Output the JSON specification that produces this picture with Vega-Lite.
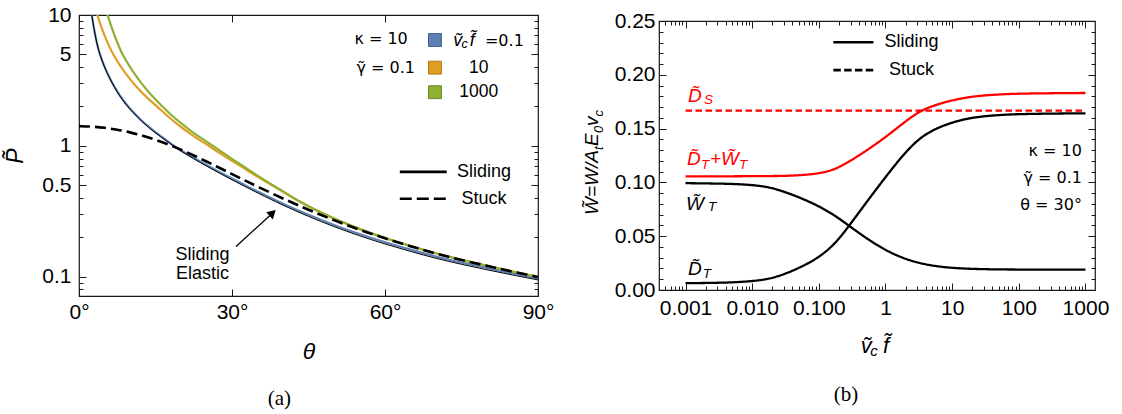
{
"$schema": "https://vega.github.io/schema/vega-lite/v6.json",
"background": "white",
"padding": {"left": 4, "top": 3, "right": 5, "bottom": 0},
"bounds": "flush",
"center": true,
"spacing": 121,
"config": {
 "view": {"stroke": "#1a1a1a", "strokeWidth": 1.2},
 "font": "Liberation Sans",
 "axis": {"domain": false, "grid": false, "labelFont": "Liberation Sans", "labelFontSize": 21, "labelColor": "#000", "tickColor": "#1a1a1a", "tickWidth": 1, "titleFont": "Liberation Sans", "titleFontWeight": "normal", "titleColor": "#000", "labelOverlap": false, "labelFlush": false, "labelBound": false},
 "text": {"font": "Liberation Sans", "color": "#000"},
 "title": {"font": "Liberation Serif", "fontSize": 21, "fontWeight": "normal", "color": "#000"}
},
"resolve": {"scale": {"color": "independent", "stroke": "independent", "strokeDash": "independent"}},
"datasets": {
 "left_slide": [
  {"theta":2.3,"P":11.3,"s":"0.1"},{"theta":2.5,"P":10,"s":"0.1"},{"theta":3,"P":7.6,"s":"0.1"},{"theta":3.5,"P":6.1,"s":"0.1"},{"theta":4,"P":5.1,"s":"0.1"},{"theta":5,"P":4.0,"s":"0.1"},{"theta":6,"P":3.3,"s":"0.1"},{"theta":7,"P":2.8,"s":"0.1"},{"theta":8,"P":2.42,"s":"0.1"},{"theta":9,"P":2.14,"s":"0.1"},{"theta":10,"P":1.92,"s":"0.1"},{"theta":12,"P":1.59,"s":"0.1"},{"theta":14,"P":1.36,"s":"0.1"},{"theta":16,"P":1.19,"s":"0.1"},{"theta":18,"P":1.04,"s":"0.1"},{"theta":19,"P":0.975,"s":"0.1"},{"theta":20,"P":0.922,"s":"0.1"},{"theta":22.5,"P":0.808,"s":"0.1"},{"theta":25,"P":0.713,"s":"0.1"},{"theta":27.5,"P":0.632,"s":"0.1"},{"theta":30,"P":0.562,"s":"0.1"},{"theta":32.5,"P":0.501,"s":"0.1"},{"theta":35,"P":0.448,"s":"0.1"},{"theta":40,"P":0.36,"s":"0.1"},{"theta":45,"P":0.296,"s":"0.1"},{"theta":50,"P":0.248,"s":"0.1"},{"theta":55,"P":0.211,"s":"0.1"},{"theta":60,"P":0.183,"s":"0.1"},{"theta":65,"P":0.161,"s":"0.1"},{"theta":70,"P":0.142,"s":"0.1"},{"theta":75,"P":0.128,"s":"0.1"},{"theta":80,"P":0.1165,"s":"0.1"},{"theta":85,"P":0.106,"s":"0.1"},{"theta":90,"P":0.097,"s":"0.1"},
  {"theta":3.3,"P":11.0,"s":"10"},{"theta":3.6,"P":10,"s":"10"},{"theta":4,"P":8.89,"s":"10"},{"theta":5,"P":6.93,"s":"10"},{"theta":6,"P":5.66,"s":"10"},{"theta":6.7,"P":5.0,"s":"10"},{"theta":8,"P":4.11,"s":"10"},{"theta":10,"P":3.21,"s":"10"},{"theta":12,"P":2.62,"s":"10"},{"theta":14,"P":2.21,"s":"10"},{"theta":15.3,"P":2.0,"s":"10"},{"theta":18,"P":1.604,"s":"10"},{"theta":20,"P":1.39,"s":"10"},{"theta":22,"P":1.222,"s":"10"},{"theta":24,"P":1.086,"s":"10"},{"theta":25.5,"P":1.0,"s":"10"},{"theta":28,"P":0.858,"s":"10"},{"theta":30,"P":0.767,"s":"10"},{"theta":32,"P":0.69,"s":"10"},{"theta":35,"P":0.58,"s":"10"},{"theta":38,"P":0.495,"s":"10"},{"theta":40,"P":0.447,"s":"10"},{"theta":42,"P":0.399,"s":"10"},{"theta":45,"P":0.344,"s":"10"},{"theta":48,"P":0.302,"s":"10"},{"theta":50,"P":0.278,"s":"10"},{"theta":55,"P":0.23,"s":"10"},{"theta":60,"P":0.197,"s":"10"},{"theta":65,"P":0.1715,"s":"10"},{"theta":70,"P":0.1505,"s":"10"},{"theta":75,"P":0.1343,"s":"10"},{"theta":80,"P":0.1213,"s":"10"},{"theta":85,"P":0.1093,"s":"10"},{"theta":90,"P":0.0997,"s":"10"},
  {"theta":5.3,"P":11.0,"s":"1000"},{"theta":5.6,"P":10,"s":"1000"},{"theta":6,"P":8.92,"s":"1000"},{"theta":7,"P":6.9,"s":"1000"},{"theta":8,"P":5.53,"s":"1000"},{"theta":8.5,"P":5.0,"s":"1000"},{"theta":10,"P":3.98,"s":"1000"},{"theta":12,"P":3.08,"s":"1000"},{"theta":14,"P":2.48,"s":"1000"},{"theta":16.3,"P":2.0,"s":"1000"},{"theta":18,"P":1.73,"s":"1000"},{"theta":20,"P":1.487,"s":"1000"},{"theta":22,"P":1.295,"s":"1000"},{"theta":24,"P":1.142,"s":"1000"},{"theta":26.3,"P":1.0,"s":"1000"},{"theta":28,"P":0.897,"s":"1000"},{"theta":30,"P":0.795,"s":"1000"},{"theta":32,"P":0.71,"s":"1000"},{"theta":35,"P":0.59,"s":"1000"},{"theta":38,"P":0.5,"s":"1000"},{"theta":40,"P":0.45,"s":"1000"},{"theta":42,"P":0.4,"s":"1000"},{"theta":45,"P":0.345,"s":"1000"},{"theta":48,"P":0.303,"s":"1000"},{"theta":50,"P":0.278,"s":"1000"},{"theta":55,"P":0.231,"s":"1000"},{"theta":60,"P":0.197,"s":"1000"},{"theta":65,"P":0.1715,"s":"1000"},{"theta":70,"P":0.1505,"s":"1000"},{"theta":75,"P":0.1343,"s":"1000"},{"theta":80,"P":0.1213,"s":"1000"},{"theta":85,"P":0.1093,"s":"1000"},{"theta":90,"P":0.0997,"s":"1000"}
 ],
 "left_el": [
  {"theta":2.3,"P":11.2},{"theta":2.5,"P":9.95},{"theta":3,"P":7.57},{"theta":3.5,"P":6.07},{"theta":4,"P":5.07},{"theta":5,"P":3.98},{"theta":6,"P":3.28},{"theta":7,"P":2.78},{"theta":8,"P":2.4},{"theta":9,"P":2.12},{"theta":10,"P":1.905},{"theta":12,"P":1.575},{"theta":14,"P":1.345},{"theta":16,"P":1.175},{"theta":18,"P":1.03},{"theta":20,"P":0.91},{"theta":22.5,"P":0.795},{"theta":25,"P":0.7},{"theta":27.5,"P":0.619},{"theta":30,"P":0.55},{"theta":32.5,"P":0.49},{"theta":35,"P":0.437},{"theta":40,"P":0.351},{"theta":45,"P":0.288},{"theta":50,"P":0.241},{"theta":55,"P":0.205},{"theta":60,"P":0.1775},{"theta":65,"P":0.156},{"theta":70,"P":0.1378},{"theta":75,"P":0.1242},{"theta":80,"P":0.113},{"theta":85,"P":0.1029},{"theta":90,"P":0.0945}
 ],
 "left_stuck": [
  {"theta":0,"P":1.414},{"theta":2.5,"P":1.405},{"theta":5,"P":1.377},{"theta":7.5,"P":1.331},{"theta":10,"P":1.27},{"theta":12.5,"P":1.197},{"theta":15,"P":1.114},{"theta":17.5,"P":1.025},{"theta":20,"P":0.934},{"theta":22.5,"P":0.845},{"theta":25,"P":0.759},{"theta":27.5,"P":0.68},{"theta":30,"P":0.608},{"theta":32.5,"P":0.544},{"theta":35,"P":0.488},{"theta":40,"P":0.395},{"theta":45,"P":0.324},{"theta":50,"P":0.27},{"theta":55,"P":0.228},{"theta":60,"P":0.196},{"theta":65,"P":0.171},{"theta":70,"P":0.15},{"theta":75,"P":0.134},{"theta":80,"P":0.121},{"theta":85,"P":0.109},{"theta":90,"P":0.0995}
 ],
 "left_sq": [{"theta":69.8,"P":6.44,"s":"0.1"},{"theta":69.8,"P":3.96,"s":"10"},{"theta":69.8,"P":2.57,"s":"1000"}],
 "left_txt_l": [{"theta":54.0,"P":6.01,"t":"\u03ba = 10"},{"theta":54.4,"P":3.63,"t":"\u03b3\u0303 = 0.1"},{"theta":79.6,"P":5.8,"t":"=0.1"}],
 "left_txt_c": [{"theta":78.4,"P":3.59,"t":"10"},{"theta":78.4,"P":2.35,"t":"1000"}],
 "left_txt_i": [{"theta":73.4,"P":5.8,"t":"\u1e7d"},{"theta":76.6,"P":5.8,"t":"f\u0303"}],
 "left_txt_sub": [{"theta":75.0,"P":5.57,"t":"c"}],
 "left_txt_m": [{"theta":79.4,"P":0.633,"t":"Sliding"},{"theta":79.4,"P":0.394,"t":"Stuck"},{"theta":24.2,"P":0.147,"t":"Sliding"},{"theta":24.2,"P":0.104,"t":"Elastic"}],
 "left_leg_solid": [{"theta":62.9,"theta2":72.1,"P":0.633}],
 "left_leg_dash": [{"theta":62.9,"theta2":72.1,"P":0.394}],
 "left_arrow": [{"theta":30.8,"P":0.17,"theta2":37.96,"P2":0.307}],
 "left_head": [{"theta":37.96,"P":0.307}],
 "right_lines": [
  {"v":0.001,"w":0.0993,"s":"WT"},{"v":0.001778,"w":0.0991,"s":"WT"},{"v":0.003162,"w":0.0989,"s":"WT"},{"v":0.005623,"w":0.0985,"s":"WT"},{"v":0.01,"w":0.0976,"s":"WT"},{"v":0.01778,"w":0.0958,"s":"WT"},{"v":0.03162,"w":0.091,"s":"WT"},{"v":0.05623,"w":0.085,"s":"WT"},{"v":0.1,"w":0.078,"s":"WT"},{"v":0.1778,"w":0.069,"s":"WT"},{"v":0.3162,"w":0.0575,"s":"WT"},{"v":0.5623,"w":0.0465,"s":"WT"},{"v":1,"w":0.037,"s":"WT"},{"v":1.778,"w":0.0298,"s":"WT"},{"v":3.162,"w":0.025,"s":"WT"},{"v":5.623,"w":0.0221,"s":"WT"},{"v":10,"w":0.0205,"s":"WT"},{"v":17.78,"w":0.0197,"s":"WT"},{"v":31.62,"w":0.0193,"s":"WT"},{"v":56.23,"w":0.0191,"s":"WT"},{"v":100,"w":0.019,"s":"WT"},{"v":316.2,"w":0.0189,"s":"WT"},{"v":1000,"w":0.0189,"s":"WT"},
  {"v":0.001,"w":0.0063,"s":"DT"},{"v":0.001778,"w":0.0065,"s":"DT"},{"v":0.003162,"w":0.0067,"s":"DT"},{"v":0.005623,"w":0.0072,"s":"DT"},{"v":0.01,"w":0.0082,"s":"DT"},{"v":0.01778,"w":0.0101,"s":"DT"},{"v":0.03162,"w":0.015,"s":"DT"},{"v":0.05623,"w":0.0218,"s":"DT"},{"v":0.1,"w":0.0302,"s":"DT"},{"v":0.1778,"w":0.043,"s":"DT"},{"v":0.3162,"w":0.0635,"s":"DT"},{"v":0.5623,"w":0.0845,"s":"DT"},{"v":1,"w":0.105,"s":"DT"},{"v":1.778,"w":0.1245,"s":"DT"},{"v":3.162,"w":0.141,"s":"DT"},{"v":5.623,"w":0.15,"s":"DT"},{"v":10,"w":0.1558,"s":"DT"},{"v":17.78,"w":0.1597,"s":"DT"},{"v":31.62,"w":0.1617,"s":"DT"},{"v":56.23,"w":0.1628,"s":"DT"},{"v":100,"w":0.1635,"s":"DT"},{"v":316.2,"w":0.164,"s":"DT"},{"v":1000,"w":0.1642,"s":"DT"},
  {"v":0.001,"w":0.1056,"s":"sum"},{"v":0.001778,"w":0.1056,"s":"sum"},{"v":0.003162,"w":0.1056,"s":"sum"},{"v":0.005623,"w":0.1057,"s":"sum"},{"v":0.01,"w":0.1058,"s":"sum"},{"v":0.01778,"w":0.1059,"s":"sum"},{"v":0.03162,"w":0.106,"s":"sum"},{"v":0.05623,"w":0.1068,"s":"sum"},{"v":0.1,"w":0.1082,"s":"sum"},{"v":0.1778,"w":0.112,"s":"sum"},{"v":0.3162,"w":0.121,"s":"sum"},{"v":0.5623,"w":0.131,"s":"sum"},{"v":1,"w":0.142,"s":"sum"},{"v":1.778,"w":0.1543,"s":"sum"},{"v":3.162,"w":0.166,"s":"sum"},{"v":5.623,"w":0.1721,"s":"sum"},{"v":10,"w":0.1763,"s":"sum"},{"v":17.78,"w":0.1794,"s":"sum"},{"v":31.62,"w":0.181,"s":"sum"},{"v":56.23,"w":0.1819,"s":"sum"},{"v":100,"w":0.1825,"s":"sum"},{"v":316.2,"w":0.1829,"s":"sum"},{"v":1000,"w":0.1831,"s":"sum"},
  {"v":0.001,"w":0.1667,"s":"DS"},{"v":1000,"w":0.1667,"s":"DS"}
 ],
 "right_leg_solid": [{"v":0.165,"v2":0.66,"w":0.2303}],
 "right_leg_dash": [{"v":0.165,"v2":0.66,"w":0.2043}],
 "right_txt_m": [{"v":2.46,"w":0.2303,"t":"Sliding"},{"v":2.46,"w":0.2043,"t":"Stuck"}],
 "right_txt_r": [{"v":886,"w":0.129,"t":"\u03ba = 10"},{"v":886,"w":0.104,"t":"\u03b3\u0303 = 0.1"},{"v":886,"w":0.079,"t":"\u03b8 = 30\u00b0"}],
 "right_lab": [{"v":0.00109,"w":0.1747,"t":"D\u0303","s":"DS"},{"v":0.001052,"w":0.1159,"t":"D\u0303","s":"sum"},{"v":0.00233,"w":0.1159,"t":"+W\u0303","s":"sum"},{"v":0.001017,"w":0.0746,"t":"W\u0303","s":"WT"},{"v":0.00109,"w":0.0142,"t":"D\u0303","s":"DT"}],
 "right_sub": [{"v":0.00189,"w":0.1729,"t":"S","s":"DS"},{"v":0.0017,"w":0.1127,"t":"T","s":"sum"},{"v":0.00634,"w":0.1127,"t":"T","s":"sum"},{"v":0.00217,"w":0.0731,"t":"T","s":"WT"},{"v":0.00182,"w":0.0112,"t":"T","s":"DT"}],
 "right_xt": [{"v":0.4246,"w":-0.0586,"t":"\u1e7d"},{"v":0.916,"w":-0.0586,"t":"f\u0303"}],
 "right_xt_sub": [{"v":0.593,"w":-0.0616,"t":"c"}],
 "right_yt": [{"v":0.0000486,"w":0.0697,"t":"W\u0303=W/A"},{"v":0.0000486,"w":0.1338,"t":"E"},{"v":0.0000486,"w":0.1524,"t":"v"}],
 "right_yt_sub": [{"v":0.0000578,"w":0.1301,"t":"t"},{"v":0.0000578,"w":0.1459,"t":"0"},{"v":0.0000578,"w":0.1612,"t":"c"}]
},
"hconcat": [
 {
  "width": 459, "height": 281,
  "title": {"text": "(a)", "orient": "bottom", "anchor": "middle", "frame": "bounds", "offset": 25},
  "resolve": {"axis": {"x": "independent", "y": "independent"}},
  "layer": [
   {"data": {"name": "left_slide"},
    "mark": {"type": "line", "clip": true, "strokeWidth": 2.2, "interpolate": "basis"},
    "encoding": {
     "x": {"field": "theta", "type": "quantitative", "scale": {"domain": [0, 90], "nice": false, "zero": false},
       "axis": {"orient": "bottom", "values": [0, 30, 60, 90], "labelExpr": "datum.value + '\u00b0'", "tickSize": -7, "labelPadding": 12, "title": "\u03b8", "titleFontStyle": "italic", "titleFontSize": 23, "titlePadding": 18}},
     "y": {"field": "P", "type": "quantitative", "scale": {"type": "log", "domain": [0.0712, 10], "nice": false},
       "axis": {"orient": "left", "values": [0.08,0.09,0.1,0.2,0.3,0.4,0.5,0.6,0.7,0.8,0.9,1,2,3,4,5,6,7,8,9,10],
         "labelExpr": "datum.value == 0.1 ? '0.1' : datum.value == 0.5 ? '0.5' : datum.value == 1 ? '1' : datum.value == 5 ? '5' : datum.value == 10 ? '10' : ''",
         "tickSize": {"condition": {"test": "datum.value == 0.1 || datum.value == 0.5 || datum.value == 1 || datum.value == 5 || datum.value == 10", "value": -7}, "value": -4},
         "labelPadding": 15, "title": "P\u0303", "titleFontStyle": "italic", "titleFontSize": 23, "titlePadding": 14}},
     "color": {"field": "s", "type": "nominal", "scale": {"domain": ["0.1", "10", "1000"], "range": ["#5E81B5", "#E19C24", "#8FB032"]}, "legend": null}
    }},
   {"data": {"name": "left_el"},
    "mark": {"type": "line", "clip": true, "strokeWidth": 1, "color": "#000", "interpolate": "basis"},
    "encoding": {
     "x": {"field": "theta", "type": "quantitative", "scale": {"domain": [0, 90], "nice": false, "zero": false}, "axis": null},
     "y": {"field": "P", "type": "quantitative", "scale": {"type": "log", "domain": [0.0712, 10], "nice": false}, "axis": null}
    }},
   {"data": {"name": "left_stuck"},
    "mark": {"type": "line", "clip": true, "strokeWidth": 2.6, "color": "#000", "strokeDash": [11, 5], "interpolate": "basis"},
    "encoding": {
     "x": {"field": "theta", "type": "quantitative", "scale": {"domain": [0, 90], "nice": false, "zero": false},
       "axis": {"orient": "top", "values": [0, 30, 60, 90], "labels": false, "tickSize": -7, "title": null}},
     "y": {"field": "P", "type": "quantitative", "scale": {"type": "log", "domain": [0.0712, 10], "nice": false},
       "axis": {"orient": "right", "values": [0.08,0.09,0.1,0.2,0.3,0.4,0.5,0.6,0.7,0.8,0.9,1,2,3,4,5,6,7,8,9,10], "labels": false,
         "tickSize": {"condition": {"test": "datum.value == 0.1 || datum.value == 0.5 || datum.value == 1 || datum.value == 5 || datum.value == 10", "value": -7}, "value": -4}, "title": null}}
    }},
   {"data": {"name": "left_sq"},
    "mark": {"type": "point", "shape": "square", "filled": true, "size": 165, "strokeWidth": 1, "opacity": 1},
    "encoding": {
     "x": {"field": "theta", "type": "quantitative", "axis": null},
     "y": {"field": "P", "type": "quantitative", "axis": null},
     "color": {"field": "s", "type": "nominal", "legend": null},
     "stroke": {"field": "s", "type": "nominal", "scale": {"domain": ["0.1", "10", "1000"], "range": ["#3d5d8f", "#b07a12", "#6b8a1f"]}, "legend": null}
    }},
   {"data": {"name": "left_txt_l"},
    "mark": {"type": "text", "align": "left", "baseline": "alphabetic", "fontSize": 16, "font": "DejaVu Sans"},
    "encoding": {"x": {"field": "theta", "type": "quantitative", "axis": null}, "y": {"field": "P", "type": "quantitative", "axis": null}, "text": {"field": "t"}}},
   {"data": {"name": "left_txt_c"},
    "mark": {"type": "text", "align": "center", "baseline": "alphabetic", "fontSize": 17.5},
    "encoding": {"x": {"field": "theta", "type": "quantitative", "axis": null}, "y": {"field": "P", "type": "quantitative", "axis": null}, "text": {"field": "t"}}},
   {"data": {"name": "left_txt_i"},
    "mark": {"type": "text", "align": "left", "baseline": "alphabetic", "fontSize": 18, "fontStyle": "italic"},
    "encoding": {"x": {"field": "theta", "type": "quantitative", "axis": null}, "y": {"field": "P", "type": "quantitative", "axis": null}, "text": {"field": "t"}}},
   {"data": {"name": "left_txt_sub"},
    "mark": {"type": "text", "align": "left", "baseline": "alphabetic", "fontSize": 12.5, "fontStyle": "italic"},
    "encoding": {"x": {"field": "theta", "type": "quantitative", "axis": null}, "y": {"field": "P", "type": "quantitative", "axis": null}, "text": {"field": "t"}}},
   {"data": {"name": "left_txt_m"},
    "mark": {"type": "text", "align": "center", "baseline": "middle", "fontSize": 18},
    "encoding": {"x": {"field": "theta", "type": "quantitative", "axis": null}, "y": {"field": "P", "type": "quantitative", "axis": null}, "text": {"field": "t"}}},
   {"data": {"name": "left_leg_solid"},
    "mark": {"type": "rule", "strokeWidth": 2.6, "color": "#000"},
    "encoding": {"x": {"field": "theta", "type": "quantitative", "axis": null}, "x2": {"field": "theta2"}, "y": {"field": "P", "type": "quantitative", "axis": null}}},
   {"data": {"name": "left_leg_dash"},
    "mark": {"type": "rule", "strokeWidth": 2.6, "color": "#000", "strokeDash": [12, 5]},
    "encoding": {"x": {"field": "theta", "type": "quantitative", "axis": null}, "x2": {"field": "theta2"}, "y": {"field": "P", "type": "quantitative", "axis": null}}},
   {"data": {"name": "left_arrow"},
    "mark": {"type": "rule", "strokeWidth": 1.3, "color": "#000"},
    "encoding": {"x": {"field": "theta", "type": "quantitative", "axis": null}, "x2": {"field": "theta2"}, "y": {"field": "P", "type": "quantitative", "axis": null}, "y2": {"field": "P2"}}},
   {"data": {"name": "left_head"},
    "mark": {"type": "point", "shape": "triangle-up", "filled": true, "color": "#000", "size": 95, "angle": 47, "opacity": 1},
    "encoding": {"x": {"field": "theta", "type": "quantitative", "axis": null}, "y": {"field": "P", "type": "quantitative", "axis": null}}}
  ]
 },
 {
  "width": 436, "height": 269,
  "title": {"text": "(b)", "orient": "bottom", "anchor": "middle", "frame": "bounds", "offset": 25},
  "resolve": {"axis": {"x": "independent", "y": "independent"}},
  "layer": [
   {"data": {"name": "right_lines"},
    "mark": {"type": "line", "clip": true, "strokeWidth": 2.3, "interpolate": "basis"},
    "encoding": {
     "x": {"field": "v", "type": "quantitative", "scale": {"type": "log", "domain": [0.0004, 1390], "nice": false},
       "axis": {"orient": "bottom", "values": [0.0004,0.0005,0.0006,0.0007,0.0008,0.0009,0.001,0.002,0.003,0.004,0.005,0.006,0.007,0.008,0.009,0.01,0.02,0.03,0.04,0.05,0.06,0.07,0.08,0.09,0.1,0.2,0.3,0.4,0.5,0.6,0.7,0.8,0.9,1,2,3,4,5,6,7,8,9,10,20,30,40,50,60,70,80,90,100,200,300,400,500,600,700,800,900,1000],
         "labelExpr": "datum.value == 0.001 ? '0.001' : datum.value == 0.01 ? '0.010' : datum.value == 0.1 ? '0.100' : datum.value == 1 ? '1' : datum.value == 10 ? '10' : datum.value == 100 ? '100' : datum.value == 1000 ? '1000' : ''",
         "tickSize": {"condition": {"test": "indexof([0.001,0.01,0.1,1,10,100,1000], datum.value) >= 0", "value": -7}, "value": -4},
         "labelPadding": 14, "title": null}},
     "y": {"field": "w", "type": "quantitative", "scale": {"domain": [0, 0.25], "nice": false, "zero": false},
       "axis": {"orient": "left", "values": [0,0.01,0.02,0.03,0.04,0.05,0.06,0.07,0.08,0.09,0.1,0.11,0.12,0.13,0.14,0.15,0.16,0.17,0.18,0.19,0.2,0.21,0.22,0.23,0.24,0.25],
         "labelExpr": "indexof([0,0.05,0.1,0.15,0.2,0.25], datum.value) >= 0 ? format(datum.value, '.2f') : ''",
         "tickSize": {"condition": {"test": "indexof([0,0.05,0.1,0.15,0.2,0.25], datum.value) >= 0", "value": -7}, "value": -4},
         "labelPadding": 11, "title": null}},
     "color": {"field": "s", "type": "nominal", "scale": {"domain": ["WT", "DT", "sum", "DS"], "range": ["#000000", "#000000", "#ff0000", "#ff0000"]}, "legend": null},
     "strokeDash": {"field": "s", "type": "nominal", "scale": {"domain": ["WT", "DT", "sum", "DS"], "range": [[1, 0], [1, 0], [1, 0], [6.5, 3.5]]}, "legend": null}
    }},
   {"data": {"name": "right_leg_solid"},
    "mark": {"type": "rule", "strokeWidth": 2.6, "color": "#000"},
    "encoding": {
     "x": {"field": "v", "type": "quantitative", "scale": {"type": "log", "domain": [0.0004, 1390], "nice": false},
       "axis": {"orient": "top", "values": [0.0004,0.0005,0.0006,0.0007,0.0008,0.0009,0.001,0.002,0.003,0.004,0.005,0.006,0.007,0.008,0.009,0.01,0.02,0.03,0.04,0.05,0.06,0.07,0.08,0.09,0.1,0.2,0.3,0.4,0.5,0.6,0.7,0.8,0.9,1,2,3,4,5,6,7,8,9,10,20,30,40,50,60,70,80,90,100,200,300,400,500,600,700,800,900,1000],
         "labels": false, "tickSize": {"condition": {"test": "indexof([0.001,0.01,0.1,1,10,100,1000], datum.value) >= 0", "value": -7}, "value": -4}, "title": null}},
     "x2": {"field": "v2"},
     "y": {"field": "w", "type": "quantitative", "scale": {"domain": [0, 0.25], "nice": false, "zero": false},
       "axis": {"orient": "right", "values": [0,0.01,0.02,0.03,0.04,0.05,0.06,0.07,0.08,0.09,0.1,0.11,0.12,0.13,0.14,0.15,0.16,0.17,0.18,0.19,0.2,0.21,0.22,0.23,0.24,0.25],
         "labels": false, "tickSize": {"condition": {"test": "indexof([0,0.05,0.1,0.15,0.2,0.25], datum.value) >= 0", "value": -7}, "value": -4}, "title": null}}
    }},
   {"data": {"name": "right_leg_dash"},
    "mark": {"type": "rule", "strokeWidth": 2.6, "color": "#000", "strokeDash": [7.5, 3.3]},
    "encoding": {"x": {"field": "v", "type": "quantitative", "axis": null}, "x2": {"field": "v2"}, "y": {"field": "w", "type": "quantitative", "axis": null}}},
   {"data": {"name": "right_txt_m"},
    "mark": {"type": "text", "align": "center", "baseline": "middle", "fontSize": 18},
    "encoding": {"x": {"field": "v", "type": "quantitative", "axis": null}, "y": {"field": "w", "type": "quantitative", "axis": null}, "text": {"field": "t"}}},
   {"data": {"name": "right_txt_r"},
    "mark": {"type": "text", "align": "right", "baseline": "middle", "fontSize": 16, "font": "DejaVu Sans"},
    "encoding": {"x": {"field": "v", "type": "quantitative", "axis": null}, "y": {"field": "w", "type": "quantitative", "axis": null}, "text": {"field": "t"}}},
   {"data": {"name": "right_lab"},
    "mark": {"type": "text", "align": "left", "baseline": "alphabetic", "fontSize": 19, "fontStyle": "italic"},
    "encoding": {"x": {"field": "v", "type": "quantitative", "axis": null}, "y": {"field": "w", "type": "quantitative", "axis": null}, "text": {"field": "t"}, "color": {"field": "s", "type": "nominal", "legend": null}}},
   {"data": {"name": "right_sub"},
    "mark": {"type": "text", "align": "left", "baseline": "alphabetic", "fontSize": 13.5, "fontStyle": "italic"},
    "encoding": {"x": {"field": "v", "type": "quantitative", "axis": null}, "y": {"field": "w", "type": "quantitative", "axis": null}, "text": {"field": "t"}, "color": {"field": "s", "type": "nominal", "legend": null}}},
   {"data": {"name": "right_xt"},
    "mark": {"type": "text", "align": "left", "baseline": "alphabetic", "fontSize": 22, "fontStyle": "italic"},
    "encoding": {"x": {"field": "v", "type": "quantitative", "axis": null}, "y": {"field": "w", "type": "quantitative", "axis": null}, "text": {"field": "t"}}},
   {"data": {"name": "right_xt_sub"},
    "mark": {"type": "text", "align": "left", "baseline": "alphabetic", "fontSize": 15, "fontStyle": "italic"},
    "encoding": {"x": {"field": "v", "type": "quantitative", "axis": null}, "y": {"field": "w", "type": "quantitative", "axis": null}, "text": {"field": "t"}}},
   {"data": {"name": "right_yt"},
    "mark": {"type": "text", "align": "left", "baseline": "alphabetic", "fontSize": 19, "fontStyle": "italic", "angle": 270},
    "encoding": {"x": {"field": "v", "type": "quantitative", "axis": null}, "y": {"field": "w", "type": "quantitative", "axis": null}, "text": {"field": "t"}}},
   {"data": {"name": "right_yt_sub"},
    "mark": {"type": "text", "align": "left", "baseline": "alphabetic", "fontSize": 13, "fontStyle": "italic", "angle": 270},
    "encoding": {"x": {"field": "v", "type": "quantitative", "axis": null}, "y": {"field": "w", "type": "quantitative", "axis": null}, "text": {"field": "t"}}}
  ]
 }
]
}
